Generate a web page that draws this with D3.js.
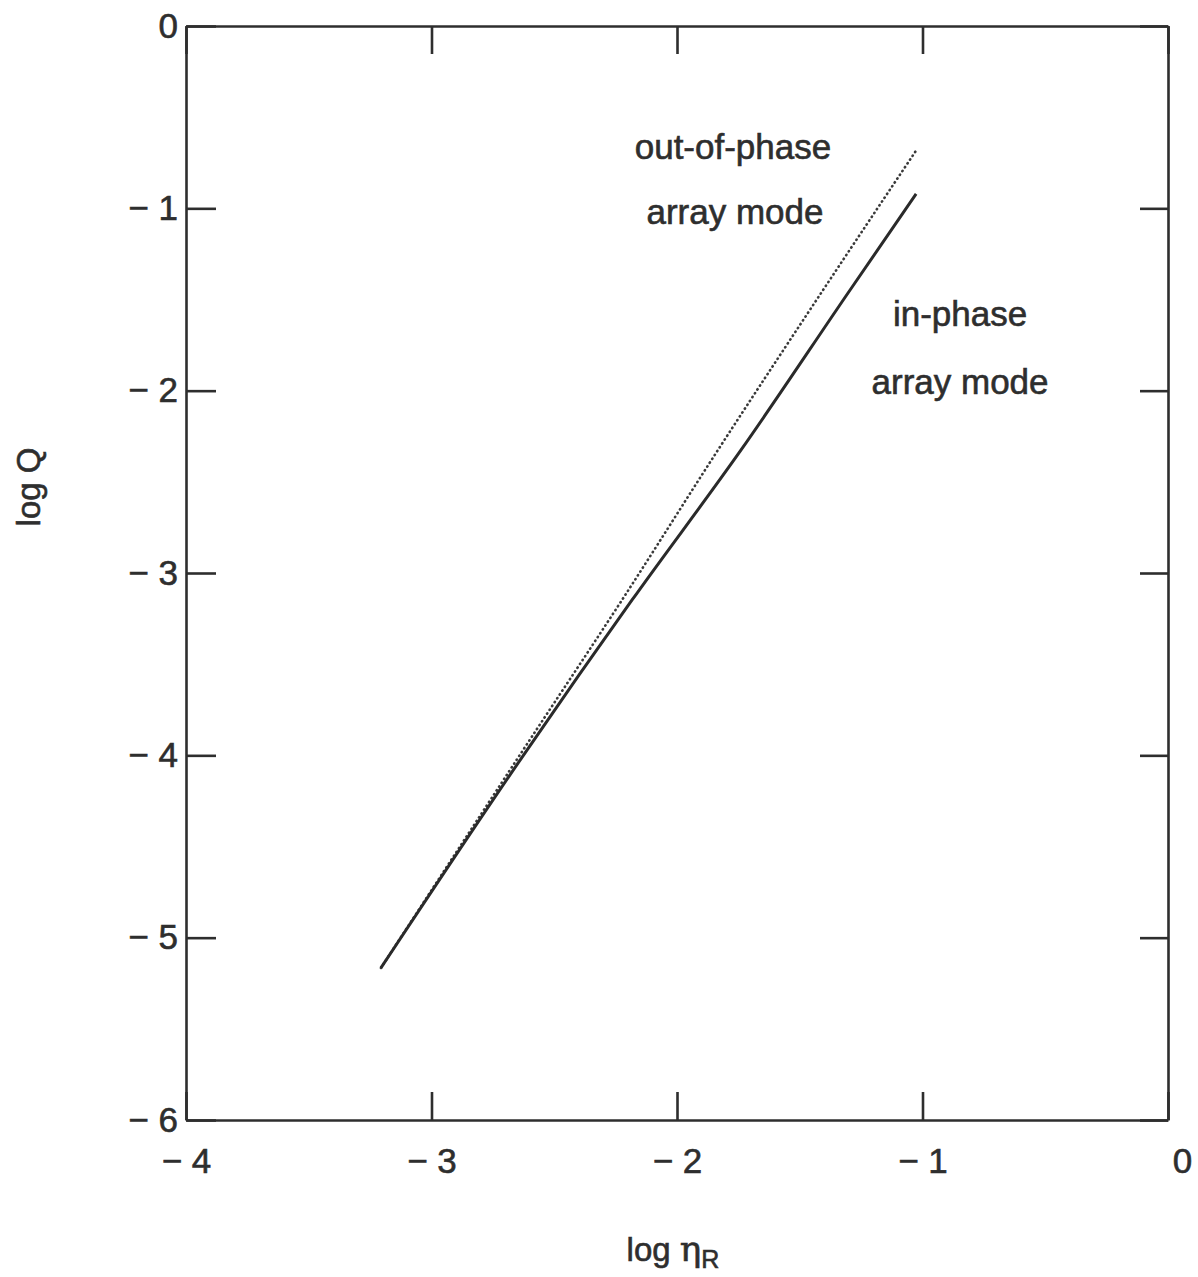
<!DOCTYPE html>
<html>
<head>
<meta charset="utf-8">
<script src="https://cdn.jsdelivr.net/npm/d3@7"></script>
<style>
  body { margin: 0; background: #fff; }
  text { font-family: "Liberation Sans", Arial, sans-serif; fill: #2e2e2e; stroke: #2e2e2e; stroke-width: 0.6px; }
</style>
</head>
<body>
<svg id="chart"></svg>
<script>
// values (log eta_R, log Q)
const inPhaseX  = [-3.206, -2.611, -2.183, -1.739, -1.295, -1.026];
const inPhaseY  = [-5.166, -3.971, -3.148, -2.325, -1.448, -0.921];
const outPhaseX = [-3.206, -2.627, -2.224, -1.833, -1.405, -1.022];
const outPhaseY = [-5.166, -3.971, -3.148, -2.325, -1.448, -0.675];
const xTicks = [-4, -3, -2, -1, 0];
const yTicks = [0, -1, -2, -3, -4, -5, -6];

let config = { svg: {}, margin: {} };
config.margin.top = 26;
config.margin.left = 186;
config.svg.width = 982;
config.svg.height = 1094;

let svg = d3.select("#chart")
  .attr("width", 1198)
  .attr("height", 1277);

let x = d3.scaleLinear().domain([-4, 0]).range([0, config.svg.width]);
let y = d3.scaleLinear().domain([-6, 0]).range([config.svg.height, 0]);

let fmt = d => d === 0 ? "0" : "\u2212 " + Math.abs(d);

let plot = svg.append("g")
  .attr("transform", `translate(${config.margin.left},${config.margin.top})`);

// axes, ticks pointing inward
let xAxis = plot.append("g")
  .attr("class", "axis")
  .attr("transform", `translate(0,${config.svg.height})`)
  .call(d3.axisBottom(x).tickValues(xTicks).tickSize(-28).tickSizeOuter(0).tickPadding(28).tickFormat(fmt));
// the "0" label sits a little right of its tick in the original
xAxis.selectAll(".tick text").filter(d => d === 0).attr("dx", 14);

plot.append("g")
  .attr("class", "axis")
  .call(d3.axisTop(x).tickValues(xTicks).tickSize(-28).tickSizeOuter(0).tickFormat(""));

plot.append("g")
  .attr("class", "axis")
  .call(d3.axisLeft(y).tickValues(yTicks).tickSize(-30).tickSizeOuter(0).tickPadding(8).tickFormat(fmt));

plot.append("g")
  .attr("class", "axis")
  .attr("transform", `translate(${config.svg.width},0)`)
  .call(d3.axisRight(y).tickValues(yTicks).tickSize(-28).tickSizeOuter(0).tickFormat(""));

plot.selectAll(".axis path, .axis line")
  .attr("stroke", "#2e2e2e")
  .attr("stroke-width", 2.6);
plot.selectAll(".axis text")
  .attr("fill", "#2e2e2e")
  .style("font-size", "35px")
  .style("font-family", "'Liberation Sans', Arial, sans-serif");

// curves
let line = d3.line()
  .x(d => x(d[0]))
  .y(d => y(d[1]))
  .curve(d3.curveMonotoneX);

plot.append("path")
  .datum(outPhaseX.map((v, i) => [v, outPhaseY[i]]))
  .attr("d", line)
  .attr("fill", "none")
  .attr("stroke", "#3a3a3a")
  .attr("stroke-width", 2.6)
  .attr("stroke-linecap", "round")
  .attr("stroke-dasharray", "0.4,4.2");

plot.append("path")
  .datum(inPhaseX.map((v, i) => [v, inPhaseY[i]]))
  .attr("d", line)
  .attr("fill", "none")
  .attr("stroke", "#2a2a2a")
  .attr("stroke-width", 3);

// annotations
let notes = [
  { t: "out-of-phase", x: -1.772, y: -0.727 },
  { t: "array mode",  x: -1.764, y: -1.086 },
  { t: "in-phase",    x: -0.847, y: -1.645 },
  { t: "array mode",  x: -0.847, y: -2.018 }
];
plot.selectAll(".note")
  .data(notes)
  .enter()
  .append("text")
  .attr("class", "note")
  .attr("x", d => x(d.x))
  .attr("y", d => y(d.y))
  .attr("text-anchor", "middle")
  .style("font-size", "35px")
  .text(d => d.t);

// axis titles
svg.append("text")
  .attr("transform", "translate(40,487) rotate(-90)")
  .attr("text-anchor", "middle")
  .style("font-size", "33px")
  .text("log Q");

let xt = svg.append("text")
  .attr("x", 673)
  .attr("y", 1261)
  .attr("text-anchor", "middle")
  .style("font-size", "33px");
xt.append("tspan").text("log ");
xt.append("tspan").style("font-family", "'DejaVu Serif', serif").style("font-size", "36px").text("\u03b7");
xt.append("tspan").attr("dy", 7).style("font-size", "25px").text("R");
</script>
</body>
</html>
